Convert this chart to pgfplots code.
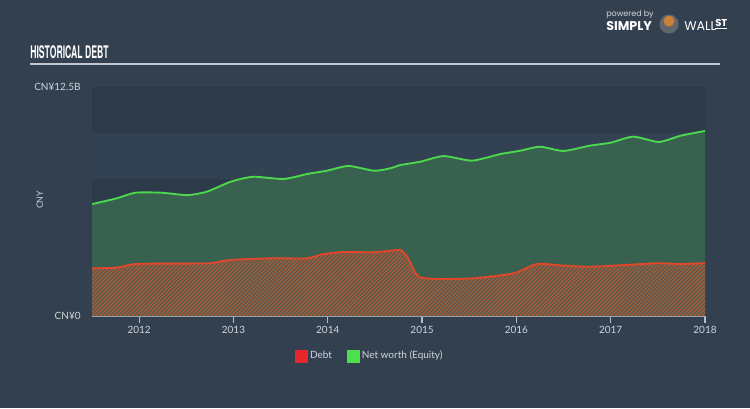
\documentclass[border=0pt]{standalone}
\usepackage{pgfplots}
\pgfplotsset{compat=1.18}
\usetikzlibrary{patterns.meta}
\usepackage{fontspec}
\setmainfont{Lato}
\newfontfamily\titlefont{TeX Gyre Heros}
\newfontfamily\logofont{Poppins}
\definecolor{bg}{HTML}{334050}
\definecolor{banddark}{HTML}{2D3A4A}
\definecolor{bandlight}{HTML}{334253}
\definecolor{greenfill}{HTML}{38624F}
\definecolor{greenline}{HTML}{4DD94D}
\definecolor{debtred}{HTML}{E2462B}
\definecolor{hatchred}{HTML}{B8553C}
\definecolor{hatchbase}{HTML}{55604A}
\definecolor{legred}{HTML}{E8262B}
\definecolor{leggreen}{HTML}{4CE04C}
\definecolor{labelcol}{HTML}{D0D5DB}
\definecolor{axisgrey}{HTML}{B8BEC6}
\definecolor{rulecol}{HTML}{C0C7CF}

\pgfplotstableread{
x y
2011.50 6.11
2011.76 6.42
2011.96 6.73
2012.24 6.73
2012.51 6.60
2012.72 6.79
2012.97 7.33
2013.21 7.60
2013.53 7.48
2013.78 7.75
2013.99 7.93
2014.22 8.19
2014.49 7.93
2014.66 8.06
2014.77 8.24
2014.98 8.42
2015.23 8.73
2015.53 8.48
2015.83 8.84
2016.04 9.02
2016.25 9.24
2016.50 9.01
2016.78 9.30
2017.00 9.46
2017.24 9.79
2017.51 9.50
2017.74 9.84
2018.00 10.10
}\networth

\pgfplotstableread{
x y
2011.50 2.60
2011.76 2.64
2011.96 2.84
2012.40 2.86
2012.75 2.88
2012.97 3.06
2013.42 3.15
2013.78 3.15
2013.95 3.38
2014.17 3.49
2014.49 3.48
2014.66 3.56
2014.77 3.60
2014.84 3.24
2014.93 2.35
2014.99 2.09
2015.19 2.02
2015.55 2.06
2015.97 2.33
2016.22 2.84
2016.50 2.75
2016.78 2.69
2017.14 2.78
2017.49 2.88
2017.74 2.84
2018.00 2.88
}\debt

\begin{document}
\begin{tikzpicture}[x=0.75pt,y=-0.75pt]
\fill[bg] (0,0) rectangle (750,408);
\node[anchor=west,inner sep=0,text=white] at (30,52) {\scalebox{0.5}[1]{\titlefont\fontsize{13}{13}\selectfont\bfseries HISTORICAL DEBT}};
\draw[rulecol,line width=1.1pt] (30,64) -- (720,64);
% logo
\node[anchor=west,inner sep=0,text=labelcol] at (606,14.5) {\logofont\fontsize{6}{6}\selectfont powered by};
\node[anchor=west,inner sep=0,text=white] at (606,26) {\logofont\fontsize{9.5}{9.5}\selectfont\bfseries SIMPLY};
\fill[gray!60!bg] (669,24) circle (9.5);
\fill[brown!80!orange] (669,21) circle (5.5);
\node[anchor=west,inner sep=0,text=white] at (684,26) {\logofont\fontsize{9.5}{9.5}\selectfont WALL};
\node[anchor=west,inner sep=0,text=white] at (715,24.5) {\logofont\fontsize{7.5}{7.5}\selectfont\bfseries \underline{ST}};
\begin{axis}[
  at={(69pt,-237pt)}, anchor=south west,
  width=459.75pt, height=171.75pt, scale only axis,
  xmin=2011.5, xmax=2018, ymin=0, ymax=12.5,
  axis x line*=bottom, axis y line*=left,
  y axis line style={draw=none},
  x axis line style={draw=axisgrey,line width=0.9pt},
  xtick={2012,2013,2014,2015,2016,2017,2018},
  xticklabels={2012,2013,2014,2015,2016,2017,2018},
  xtick align=outside,
  xtick style={draw=axisgrey,line width=0.9pt},
  major tick length=5.5pt,
  ytick={0,12.5},
  yticklabels={CN¥0,CN¥12.5B},
  ytick style={draw=none},
  tick label style={text=labelcol,font=\fontsize{7.5}{8}\selectfont},
  xticklabel style={yshift=1pt},
  yticklabel style={xshift=-5pt},
  ylabel={CNY},
  every axis y label/.style={at={(axis description cs:-0.085,0.507)},rotate=90,anchor=center,text=labelcol,font=\fontsize{6.5}{6.5}\selectfont},
  legend style={at={(axis description cs:0.4535,-0.175)},anchor=center,draw=none,fill=none,text=labelcol,font=\fontsize{7.5}{8}\selectfont,legend columns=2,
    /tikz/every even column/.append style={column sep=9pt}},
  clip=true,
]
\fill[banddark] (axis cs:2011.5,10) rectangle (axis cs:2018,12.5);
\fill[bandlight] (axis cs:2011.5,7.5) rectangle (axis cs:2018,10);
\fill[banddark] (axis cs:2011.5,5) rectangle (axis cs:2018,7.5);
\addplot[draw=none,fill=greenfill,smooth,tension=0.4,forget plot] table[x=x,y=y]{\networth} \closedcycle;
\addplot[draw=none,fill=hatchbase,postaction={pattern={Lines[angle=45,distance=2.1pt,line width=0.8pt]},pattern color=hatchred},smooth,tension=0.4,forget plot] table[x=x,y=y]{\debt} \closedcycle;
\addplot[greenline,line width=1.4pt,smooth,tension=0.4,forget plot] table[x=x,y=y]{\networth};
\addplot[debtred,line width=1.4pt,smooth,tension=0.4,forget plot] table[x=x,y=y]{\debt};
\addlegendimage{legend image code/.code={\fill[legred] (0pt,-4.5pt) rectangle (9pt,4.5pt);}}
\addlegendentry{Debt}
\addlegendimage{legend image code/.code={\fill[leggreen] (0pt,-4.5pt) rectangle (9pt,4.5pt);}}
\addlegendentry{Net worth (Equity)}
\end{axis}
\end{tikzpicture}
\end{document}
